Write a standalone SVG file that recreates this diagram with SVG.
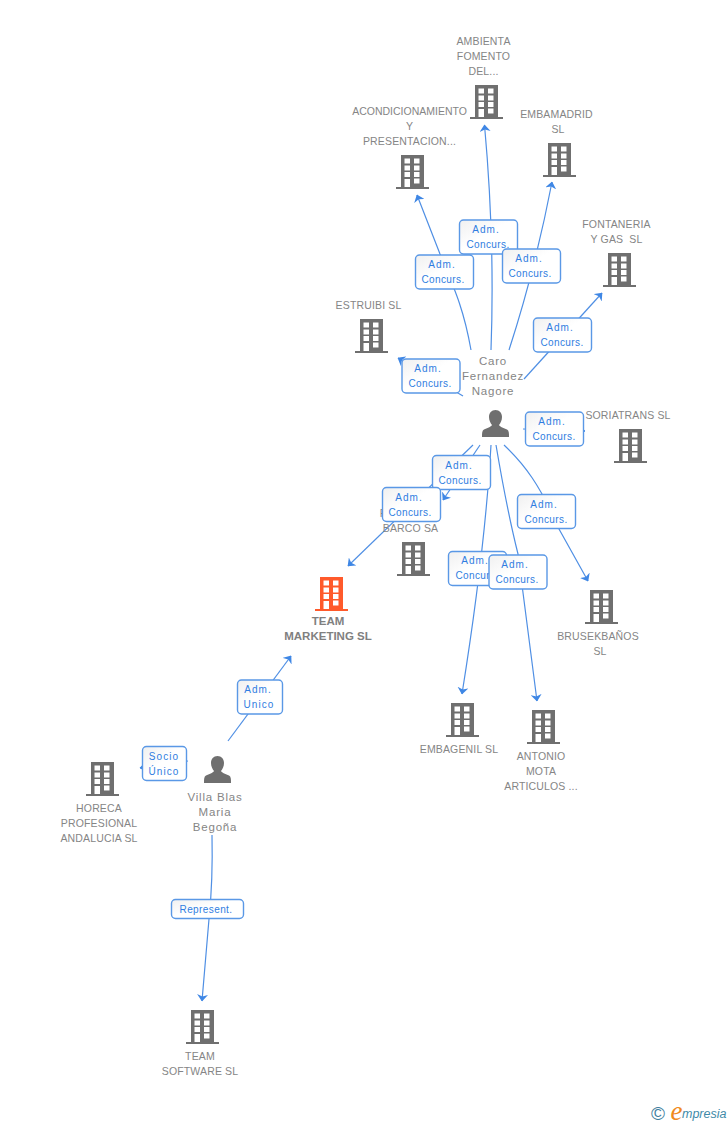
<svg xmlns="http://www.w3.org/2000/svg" width="728" height="1125" viewBox="0 0 728 1125">
<style>
text{font-family:"Liberation Sans",Arial,sans-serif;white-space:pre}
.n{font-size:10.5px;fill:#858585;text-anchor:middle;letter-spacing:.15px}
.h{font-size:11.5px;font-weight:bold;fill:#808080;text-anchor:middle}
.p{font-size:11.5px;fill:#858585;text-anchor:middle;letter-spacing:.8px}
.l{font-size:10px;fill:#2f7de1;text-anchor:middle;letter-spacing:.4px}
.a{letter-spacing:1.1px}
.b{fill:url(#g);stroke:#5a98e6;stroke-width:1.4}
.c{fill:none;stroke:#4f8fe4;stroke-width:1.2;marker-end:url(#a)}
</style>
<defs>
<linearGradient id="g" x1="0" y1="0" x2="1" y2="1"><stop offset="0" stop-color="#f0f0f0"/><stop offset=".45" stop-color="#fff"/><stop offset="1" stop-color="#fff"/></linearGradient>
<marker id="a" viewBox="0 0 7 11" refX="6.500" refY="5.500" markerWidth="7" markerHeight="11" markerUnits="userSpaceOnUse" orient="auto"><path d="M0 0L7 5.500L0 11L2 5.500Z" fill="#3f87e5"/></marker>
<symbol id="bld" overflow="visible"><path fill-rule="evenodd" d="M0 0H23V32H28V34H-5V32H0ZM3.500 3.500V8.500H9V3.500ZM13 3.500V8.500H18.500V3.500ZM3.500 10.500V15.500H9V10.500ZM13 10.500V15.500H18.500V10.500ZM3.500 17V22H9V17ZM13 17V22H18.500V17ZM3.500 24V32H9V24ZM13 23.500V28.500H18.500V23.500Z"/></symbol>
<symbol id="per" overflow="visible"><path fill="#6f6f6f" d="M13.500 0C17.500 0 20 3 20 7C20 10.500 18.500 13 17 15C18 17 22 18 25 19.500C27 20.500 27 23 27 27H0C0 23 0 20.500 2 19.500C5 18 9 17 10 15C8.500 13 7 10.500 7 7C7 3 9.500 0 13.500 0Z"/></symbol>
</defs>
<rect width="728" height="1125" fill="#fff"/>
<g id="connectors">
<path class="c" d="M491 350Q495 240 484.500 125"/>
<path class="c" d="M471 350C464 310 455 290 440 254L417 195"/>
<path class="c" d="M509 350Q535 270 552 182"/>
<path class="c" d="M524 379L602 293"/>
<path class="c" d="M463 396L398 358"/>
<path class="c" d="M523 429L585 431"/>
<path class="c" d="M480 445L443 500"/>
<path class="c" d="M473 445L348 566"/>
<path class="c" d="M491 445Q485 550 462 694"/>
<path class="c" d="M496 445Q507 510 518 554L537 701"/>
<path class="c" d="M504 445C525 465 540 485 559 529L588 581"/>
<path class="c" d="M228 741L291 656"/>
<path class="c" d="M188 761L140 768"/>
<path class="c" d="M212 835Q213 880 209 919L202 1001"/>
</g>
<g id="estruibi" fill="#6f6f6f"><use href="#bld" x="360" y="319"/><text class="n" x="368.500" y="309">ESTRUIBI SL</text></g>
<g id="ambienta" fill="#6f6f6f"><use href="#bld" x="475" y="85"/><text class="n" x="483.500" y="45">AMBIENTA</text><text class="n" x="483.500" y="60">FOMENTO</text><text class="n" x="483.500" y="75">DEL...</text></g>
<g id="acondicionamiento" fill="#6f6f6f"><use href="#bld" x="401" y="155"/><text class="n" x="409.500" y="115" style="letter-spacing:0">ACONDICIONAMIENTO</text><text class="n" x="409.500" y="130">Y</text><text class="n" x="409.500" y="145">PRESENTACION...</text></g>
<g id="embamadrid" fill="#6f6f6f"><use href="#bld" x="548" y="143"/><text class="n" x="556.500" y="118">EMBAMADRID</text><text class="n" x="558" y="133">SL</text></g>
<g id="fontaneria" fill="#6f6f6f"><use href="#bld" x="608" y="253"/><text class="n" x="616.500" y="228">FONTANERIA</text><text class="n" x="616.500" y="243">Y GAS  SL</text></g>
<g id="soriatrans" fill="#6f6f6f"><use href="#bld" x="619" y="429"/><text class="n" x="628" y="419">SORIATRANS SL</text></g>
<g id="barco" fill="#6f6f6f"><use href="#bld" x="402" y="542"/><text class="n" x="383" y="517">F</text><text class="n" x="410.500" y="532">BARCO SA</text></g>
<g id="team-marketing" fill="#ff5a2b"><use href="#bld" x="320" y="577"/><text class="h" x="328" y="625">TEAM</text><text class="h" x="328" y="640">MARKETING SL</text></g>
<g id="brusekbanos" fill="#6f6f6f"><use href="#bld" x="590" y="590"/><text class="n" x="598" y="640">BRUSEKBAÑOS</text><text class="n" x="600" y="655">SL</text></g>
<g id="embagenil" fill="#6f6f6f"><use href="#bld" x="451" y="703"/><text class="n" x="459" y="753">EMBAGENIL SL</text></g>
<g id="antonio" fill="#6f6f6f"><use href="#bld" x="532" y="710"/><text class="n" x="541" y="760">ANTONIO</text><text class="n" x="541" y="775">MOTA</text><text class="n" x="541" y="790">ARTICULOS ...</text></g>
<g id="horeca" fill="#6f6f6f"><use href="#bld" x="91" y="762"/><text class="n" x="99" y="812">HORECA</text><text class="n" x="99" y="827">PROFESIONAL</text><text class="n" x="99" y="842">ANDALUCIA SL</text></g>
<g id="team-software" fill="#6f6f6f"><use href="#bld" x="191" y="1010"/><text class="n" x="200" y="1060">TEAM</text><text class="n" x="200" y="1075">SOFTWARE SL</text></g>
<g id="caro"><use href="#per" x="482" y="410"/><text class="p" x="493" y="365">Caro</text><text class="p" x="493" y="380">Fernandez</text><text class="p" x="493" y="395">Nagore</text></g>
<g id="villa"><use href="#per" x="204" y="756"/><text class="p" x="215" y="801">Villa Blas</text><text class="p" x="215" y="816">Maria</text><text class="p" x="215" y="831">Begoña</text></g>
<g id="labels">
<g><rect class="b" x="459.500" y="220" width="58" height="34" rx="4"/><text class="l a" x="486" y="233">Adm.</text><text class="l" x="488" y="248">Concurs.</text></g>
<g><rect class="b" x="415.500" y="255" width="58" height="34" rx="4"/><text class="l a" x="442" y="268">Adm.</text><text class="l" x="443" y="283">Concurs.</text></g>
<g><rect class="b" x="502.500" y="249" width="58" height="34" rx="4"/><text class="l a" x="529" y="262">Adm.</text><text class="l" x="530" y="277">Concurs.</text></g>
<g><rect class="b" x="533.500" y="318" width="58" height="34" rx="4"/><text class="l a" x="560" y="331">Adm.</text><text class="l" x="562" y="346">Concurs.</text></g>
<g><rect class="b" x="402" y="359" width="58" height="34" rx="4"/><text class="l a" x="428" y="372">Adm.</text><text class="l" x="430" y="387">Concurs.</text></g>
<g><rect class="b" x="525.500" y="412" width="58" height="34" rx="4"/><text class="l a" x="552" y="425">Adm.</text><text class="l" x="554" y="440">Concurs.</text></g>
<g><rect class="b" x="432.500" y="455.500" width="58" height="34" rx="4"/><text class="l a" x="459" y="469">Adm.</text><text class="l" x="460" y="484">Concurs.</text></g>
<g><rect class="b" x="382.500" y="487.500" width="58" height="34" rx="4"/><text class="l a" x="409" y="501">Adm.</text><text class="l" x="410" y="516">Concurs.</text></g>
<g><rect class="b" x="517.500" y="494.500" width="58" height="34" rx="4"/><text class="l a" x="544" y="508">Adm.</text><text class="l" x="546" y="523">Concurs.</text></g>
<g><rect class="b" x="448.500" y="551.500" width="58" height="34" rx="4"/><text class="l a" x="475" y="564">Adm.</text><text class="l" x="477" y="579">Concurs.</text></g>
<g><rect class="b" x="489" y="555" width="58" height="34" rx="4"/><text class="l a" x="515" y="568">Adm.</text><text class="l" x="517" y="583">Concurs.</text></g>
<g><rect class="b" x="237.500" y="680" width="45" height="34" rx="4"/><text class="l a" x="258" y="693">Adm.</text><text class="l a" x="259" y="708">Unico</text></g>
<g><rect class="b" x="142.500" y="746.500" width="44" height="34" rx="4"/><text class="l a" x="164" y="760">Socio</text><text class="l a" x="164" y="775">Único</text></g>
<g><rect class="b" x="171.500" y="899.500" width="72" height="19" rx="4"/><text class="l" x="206" y="913">Represent.</text></g>
</g>
<g id="logo"><text x="658" y="1120" font-size="19" fill="#3f7f9f" text-anchor="middle">©</text><text x="670.500" y="1120" font-size="27" font-style="italic" fill="#f08a1d" style="font-family:'Liberation Serif',serif">e</text><text x="682" y="1118" font-size="12.500" font-style="italic" fill="#3f8aa8">mpresia</text></g>
</svg>
